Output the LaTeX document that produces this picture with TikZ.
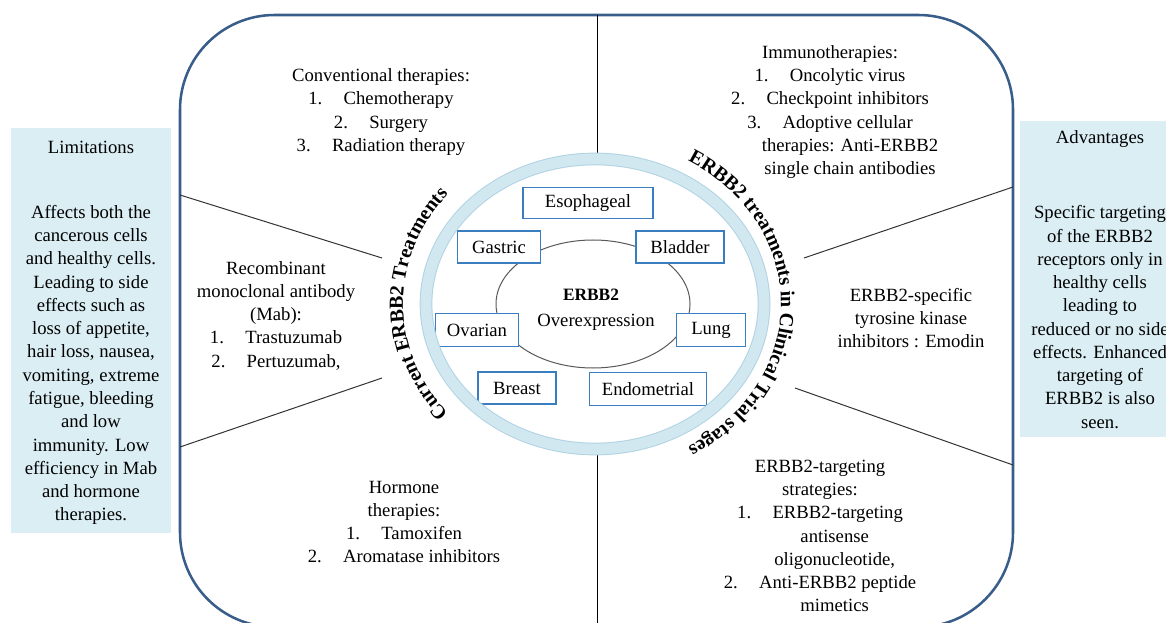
\documentclass[tikz,border=0pt]{standalone}
\usepackage{fontspec}
\setmainfont{Liberation Serif}
\usetikzlibrary{decorations.text}

\definecolor{framebl}{RGB}{56,93,138}
\definecolor{boxbl}{RGB}{58,125,192}
\definecolor{ringbl}{RGB}{210,232,241}
\definecolor{ringedge}{RGB}{176,211,226}
\definecolor{sidebl}{RGB}{218,238,243}

\newcommand{\bodysize}{\fontsize{14}{17.45}\selectfont}
\newcommand{\numitem}[2]{#1.\hspace{16pt}#2}

\tikzset{every picture/.style={line width=0.75pt}}
\tikzset{
  txt/.style={inner sep=0.75pt, align=center, font=\bodysize},
  site/.style={draw=boxbl, fill=white, line width=0.9pt, inner sep=0pt, minimum height=24pt, font=\bodysize},
  sidebox/.style={fill=sidebl, draw=none},
  ringtext/.style={decorate, decoration={text along path, text align=center,
      text={|\fontsize{15}{18}\selectfont\bfseries|#1}}},
}

\begin{document}
\begin{tikzpicture}[x=0.75pt,y=0.75pt,yscale=-1,xscale=1]
\clip (0,0) rectangle (1166,623);

% Side panels
\draw [sidebox] (11,128) rectangle (171,533);
\draw [sidebox] (1020,121) rectangle (1180,437);

% Outer frame and divider
\draw [framebl, line width=1.9pt, rounded corners=71pt] (180,15) rectangle (1013,627);
\coordinate (divtop) at (597,15);
\coordinate (divbot) at (597,627);
\draw (divtop) -- (divbot);

%Straight Lines
\coordinate (lu1) at (180,195);  \coordinate (lu2) at (382,258);
\coordinate (ll1) at (180,447);  \coordinate (ll2) at (382,378);
\coordinate (ru1) at (1013,187); \coordinate (ru2) at (804,258);
\coordinate (rl1) at (1013,465); \coordinate (rl2) at (795,388);
\draw [black!80] (lu1) -- (lu2);
\draw [black!80] (ll1) -- (ll2);
\draw [black!80] (ru1) -- (ru2);
\draw [black!80] (rl1) -- (rl2);

% Central disc
\fill [white] (595,304) ellipse [x radius=175, y radius=151];
\draw [black!65] (593,304) ellipse [x radius=97, y radius=64];
\draw (591,295) node [inner sep=0.75pt, font=\fontsize{13}{15}\selectfont\bfseries] (erbb) {ERBB2};
\draw (596,322) node [txt] (overexp) {Overexpression};

% Cancer sites
\node [site, minimum width=97.5pt, minimum height=23.25pt] (eso) at (588,203) {Esophageal};
\node [site, minimum width=62.25pt] (gas) at (499,247) {Gastric};
\node [site, minimum width=66pt] (bla) at (680,247) {Bladder};
\node [site, minimum width=62.25pt, minimum height=24.75pt] (ova) at (477,330) {Ovarian};
\node [site, minimum width=51.75pt, minimum height=24.75pt] (lun) at (711,330) {Lung};
\node [site, minimum width=58.5pt] (bre) at (517,388) {Breast};
\node [site, minimum width=87.75pt, minimum height=24.75pt] (end) at (648,389) {Endometrial};

% Ring
\draw [ringedge, line width=9.5pt] (595,304) ellipse [x radius=169, y radius=145];
\draw [ringbl, line width=8pt] (595,304) ellipse [x radius=169, y radius=145];

% Curved titles
\path [ringtext={Current ERBB2 Treatments}] (595,304) ++(130:192 and 170)
  arc [start angle=130, end angle=230, x radius=192, y radius=170];
\path [ringtext={ERBB2 treatments in Clinical Trial stages}] (595,304) ++(-70:186 and 165)
  arc [start angle=-70, end angle=70, x radius=186, y radius=165];

% Text Node
\draw (381,112) node [txt] (conv) {Conventional therapies:\\ \numitem{1}{Chemotherapy}\\ \numitem{2}{Surgery}\\ \numitem{3}{Radiation therapy}};
% Text Node
\draw (830,112) node [txt] (immuno) {Immunotherapies:\\ \numitem{1}{Oncolytic virus}\\ \numitem{2}{Checkpoint inhibitors}\\ \numitem{3}{Adoptive cellular}\\ \hspace*{30pt}therapies: Anti-ERBB2\\ \hspace*{30pt}single chain antibodies};
% Text Node
\draw (276,315.5) node [txt] (mab) {Recombinant\\ monoclonal antibody\\ (Mab):\\ \numitem{1}{Trastuzumab}\\ \numitem{2}{Pertuzumab,}};
% Text Node
\draw (911,318) node [txt] (tki) {ERBB2-specific\\ tyrosine kinase\\ inhibitors : Emodin};
% Text Node
\draw (404,522) node [txt] (hormone) {Hormone\\ therapies:\\ \numitem{1}{Tamoxifen}\\ \numitem{2}{Aromatase inhibitors}};
% Text Node
\draw (820,536) node [txt] (target) {ERBB2-targeting\\ strategies:\\ \numitem{1}{ERBB2-targeting}\\ \hspace*{22pt}antisense\\ \hspace*{22pt}oligonucleotide,\\ \numitem{2}{Anti-ERBB2 peptide}\\ \hspace*{22pt}mimetics};

% Text Node
\draw (91,147) node [txt] (limtitle) {Limitations};
\draw (91,365) node [txt] (limbody) {Affects both the\\ cancerous cells\\ and healthy cells.\\ Leading to side\\ effects such as\\ loss of appetite,\\ hair loss, nausea,\\ vomiting, extreme\\ fatigue, bleeding\\ and low\\ immunity. Low\\ efficiency in Mab\\ and hormone\\ therapies.};
% Text Node
\draw (1100,139) node [txt] (advtitle) {Advantages};
\draw (1100,317) node [txt] (advbody) {Specific targeting\\ of the ERBB2\\ receptors only in\\ healthy cells\\ leading to\\ reduced or no side\\ effects. Enhanced\\ targeting of\\ ERBB2 is also\\ seen.};

\end{tikzpicture}
\end{document}
